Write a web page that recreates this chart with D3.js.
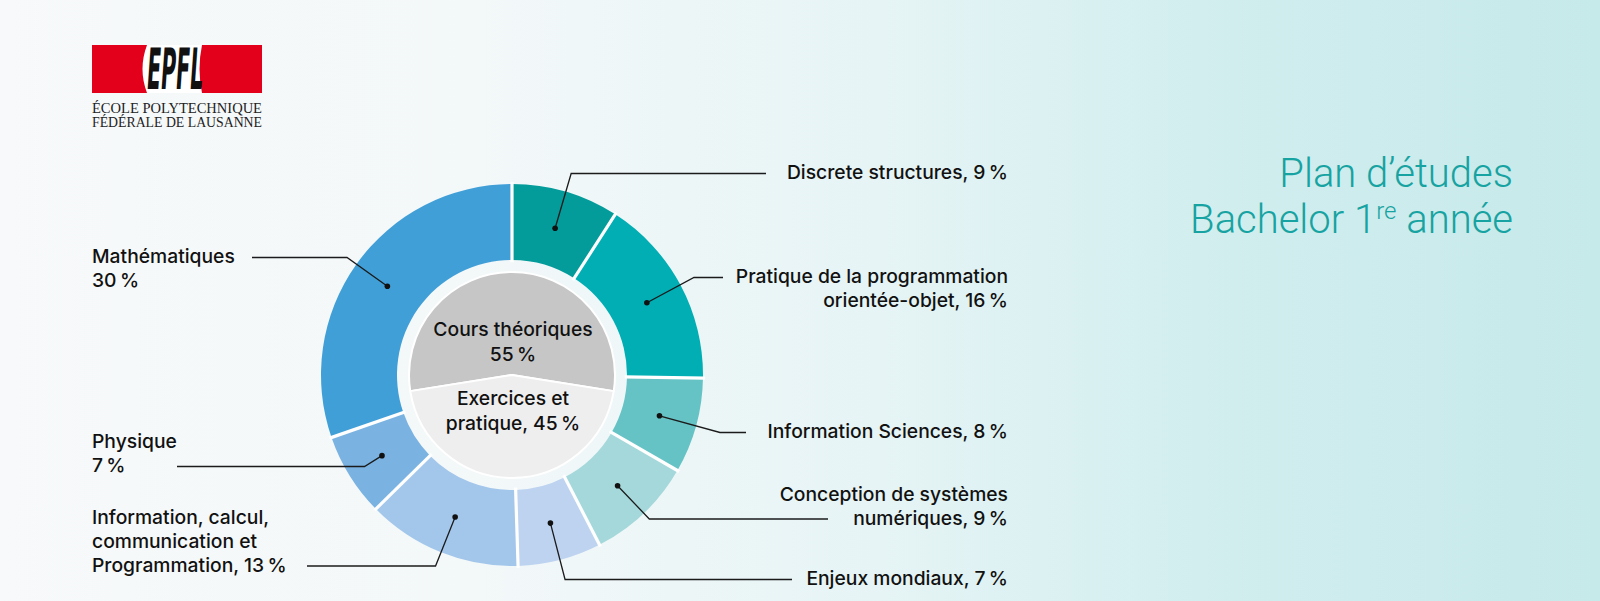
<!DOCTYPE html>
<html>
<head>
<meta charset="utf-8">
<script src="https://cdn.jsdelivr.net/npm/d3@7"></script>
<style>
  html, body { margin: 0; padding: 0; overflow: hidden; }
  text { font-family: Inter, "Noto Sans", sans-serif; }
</style>
</head>
<body>
<div id="chart"></div>
<script>
const W = 1600, H = 601;

// data
const courses = ["Discrete structures", "Pratique de la programmation orientée-objet",
  "Information Sciences", "Conception de systèmes numériques", "Enjeux mondiaux",
  "Information, calcul, communication et Programmation", "Physique", "Mathématiques"];
const shares = [9, 16, 8, 9, 7, 13, 7, 30];
const labelLines = [
  ["Discrete structures, {v} %"],
  ["Pratique de la programmation", "orientée-objet, {v} %"],
  ["Information Sciences, {v} %"],
  ["Conception de systèmes", "numériques, {v} %"],
  ["Enjeux mondiaux, {v} %"],
  ["Information, calcul,", "communication et", "Programmation, {v} %"],
  ["Physique", "{v} %"],
  ["Mathématiques", "{v} %"]
];
const courseColors = ["#049b9b", "#00aeb4", "#66c3c5", "#a5d8db", "#bdd3f0", "#a3c6eb", "#7ab3e2", "#419fd8"];

const typeNames = ["Cours théoriques", "Exercices et pratique"];
const typeShares = [55, 45];
const typeLines = [["Cours théoriques", "{v} %"], ["Exercices et", "pratique, {v} %"]];
const typeColors = ["#c6c6c6", "#eeeeee"];

// layout of the leader lines (line height, end of the horizontal part, which text line sits on it)
const labelLayout = [
  {side: "right", lineY: 173.5, endX: 766, onLine: 0},
  {side: "right", lineY: 277.5, endX: 723, onLine: 0},
  {side: "right", lineY: 432.5, endX: 746, onLine: 0},
  {side: "right", lineY: 519, endX: 828, onLine: 1},
  {side: "right", lineY: 579.5, endX: 792, onLine: 0},
  {side: "left", lineY: 566, endX: 307, onLine: 2},
  {side: "left", lineY: 466.5, endX: 177, onLine: 1},
  {side: "left", lineY: 257.5, endX: 252, onLine: 0}
];

const cx = 512, cy = 375;
const rOuter = 191, rInner = 115, rPie = 103;
const textRight = 1008, textLeft = 92, lineH = 24, fs = 19.3;
const pct = s => s.replace(" %", "\u2009%");

const svg = d3.select("#chart").append("svg")
  .attr("width", W).attr("height", H);

// background
const defs = svg.append("defs");
const grad = defs.append("linearGradient").attr("id", "bg")
  .attr("x1", "0%").attr("x2", "100%").attr("y1", "0%").attr("y2", "0%");
[[0, "#f7f9fa"], [0.3, "#f3f8f9"], [0.55, "#e6f4f5"], [0.75, "#d2eeef"], [1, "#c6e9ea"]]
  .forEach(s => grad.append("stop").attr("offset", s[0]).attr("stop-color", s[1]));
svg.append("rect").attr("width", W).attr("height", H).attr("fill", "url(#bg)");

// logo
const logo = svg.append("g").attr("class", "logo");
logo.append("rect").attr("x", 92).attr("y", 45).attr("width", 170).attr("height", 48).attr("fill", "#e3001b");
logo.append("path")
  .attr("d", "M147,45 L202,45 Q197,69 202,93 L147,93 Q138,69 147,45 Z")
  .attr("fill", "#fff");
logo.append("text").attr("x", 146).attr("y", 89)
  .attr("textLength", 56).attr("lengthAdjust", "spacingAndGlyphs")
  .attr("transform", "skewX(-4) translate(6,0)")
  .style("font-family", "'DejaVu Sans', sans-serif").style("font-size", "57px").style("font-weight", 700)
  .attr("fill", "#111").text("EPFL");
logo.append("text").attr("x", 92).attr("y", 113)
  .attr("textLength", 170).attr("lengthAdjust", "spacingAndGlyphs")
  .style("font-family", "'Liberation Serif', serif").style("font-size", "14.5px")
  .attr("fill", "#222").text("ÉCOLE POLYTECHNIQUE");
logo.append("text").attr("x", 92).attr("y", 127)
  .attr("textLength", 170).attr("lengthAdjust", "spacingAndGlyphs")
  .style("font-family", "'Liberation Serif', serif").style("font-size", "14.5px")
  .attr("fill", "#222").text("FÉDÉRALE DE LAUSANNE");

// title
const title = svg.append("text").attr("text-anchor", "end")
  .style("font-family", "Roboto, 'Liberation Sans', sans-serif")
  .style("font-size", "40px").style("font-weight", 300).attr("fill", "#16a3a1");
title.append("tspan").attr("x", 1513).attr("y", 186.5).text("Plan d’études");
const t2 = title.append("tspan").attr("x", 1513).attr("y", 232.5);
t2.append("tspan").text("Bachelor 1");
t2.append("tspan").attr("dy", -14).style("font-size", "24px").text("re");
t2.append("tspan").attr("dy", 14).text(" année");

const g = svg.append("g").attr("transform", `translate(${cx},${cy})`);

// outer ring
const pie = d3.pie().sort(null).value(d => d);
const arcs = pie(shares);
const arc = d3.arc().innerRadius(rInner).outerRadius(rOuter);

g.selectAll(".slice").data(arcs).enter().append("path")
  .attr("class", "slice")
  .attr("d", arc)
  .attr("fill", (d, i) => courseColors[i]);

g.selectAll(".sep").data(arcs).enter().append("line")
  .attr("class", "sep")
  .attr("x1", d => rInner * Math.sin(d.startAngle) * 0.98)
  .attr("y1", d => -rInner * Math.cos(d.startAngle) * 0.98)
  .attr("x2", d => (rOuter + 2) * Math.sin(d.startAngle))
  .attr("y2", d => -(rOuter + 2) * Math.cos(d.startAngle))
  .attr("stroke", "#fff").attr("stroke-width", 3.2);

// inner pie
const innerPie = d3.pie().sort(null).value(d => d)
  .startAngle(-Math.PI * 0.55).endAngle(Math.PI * 1.45);
const innerArcs = innerPie(typeShares);
const innerArc = d3.arc().innerRadius(0).outerRadius(rPie);
g.selectAll(".inner").data(innerArcs).enter().append("path")
  .attr("class", "inner")
  .attr("d", innerArc)
  .attr("fill", (d, i) => typeColors[i])
  .attr("stroke", "#fff").attr("stroke-width", 2).attr("stroke-linejoin", "round");

const innerTextY = [[-39.5, -14.5], [30, 54.5]];
innerArcs.forEach((d, i) => {
  const t = g.append("text").attr("text-anchor", "middle")
    .style("font-size", fs + "px").style("font-weight", 500).attr("fill", "#111");
  typeLines[i].forEach((l, j) => {
    t.append("tspan").attr("x", 1).attr("y", innerTextY[i][j])
      .text(pct(l.replace("{v}", typeShares[i])));
  });
});

// leader lines and labels
const mid = d => (d.startAngle + d.endAngle) / 2;
const dotArc = d3.arc().innerRadius(rInner).outerRadius(rOuter);

arcs.forEach((d, i) => {
  const L = labelLayout[i];
  const a = mid(d);
  const [dx, dy] = dotArc.centroid(d);
  const ly = L.lineY - cy;
  const t = ly / (-Math.cos(a));
  const kx = t * Math.sin(a);
  const ex = L.endX - cx;
  g.append("polyline")
    .attr("points", [[dx, dy], [kx, ly], [ex, ly]].map(p => p.join(",")).join(" "))
    .attr("fill", "none").attr("stroke", "#1b1b1b").attr("stroke-width", 1.3);
  g.append("circle").attr("cx", dx).attr("cy", dy).attr("r", 2.8).attr("fill", "#111");

  const lines = labelLines[i];
  const baseY = L.lineY + 5.8 - L.onLine * lineH;
  const txt = svg.append("text")
    .attr("text-anchor", L.side === "right" ? "end" : "start")
    .style("font-size", fs + "px").style("font-weight", 500).attr("fill", "#111");
  lines.forEach((l, j) => {
    txt.append("tspan")
      .attr("x", L.side === "right" ? textRight : textLeft)
      .attr("y", baseY + j * lineH)
      .text(pct(l.replace("{v}", shares[i])));
  });
});
</script>
</body>
</html>
